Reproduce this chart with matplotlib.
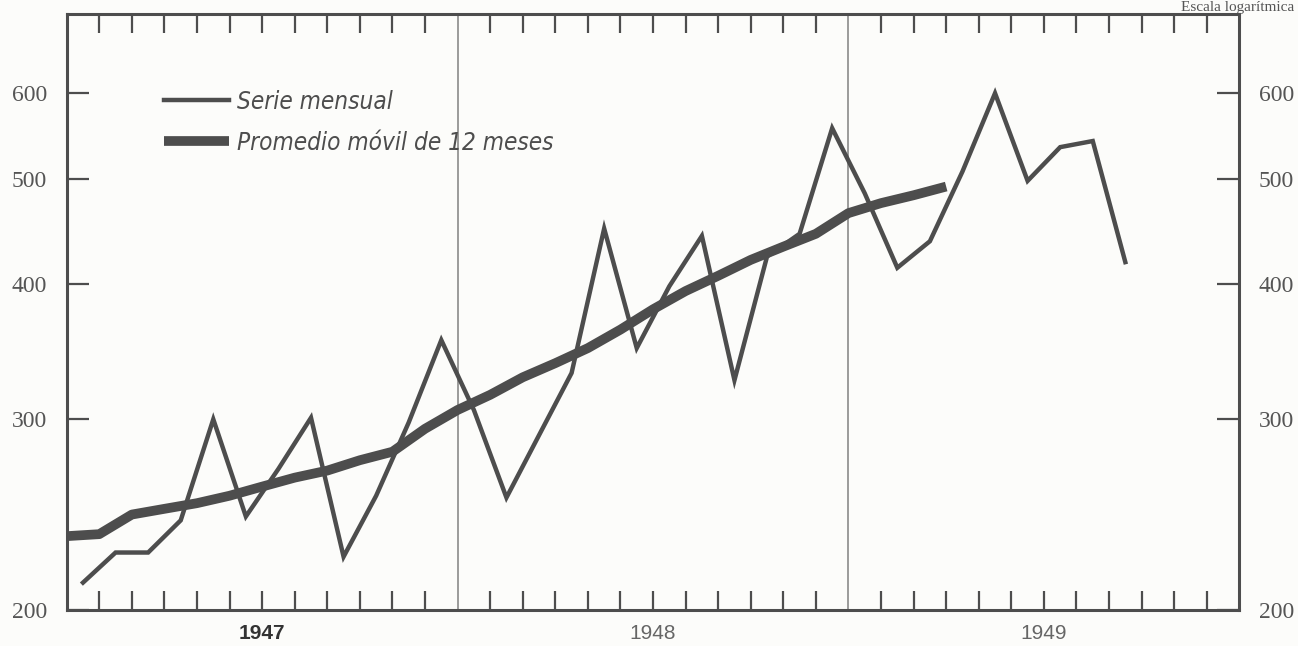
import matplotlib
matplotlib.use("Agg")
import matplotlib.pyplot as plt
from matplotlib import ticker, transforms

# Monthly series, Jan 1947 - Sep 1949 (log scale)
serie_mensual = [212, 226, 226, 242, 300, 244, 270, 301, 224, 255, 298, 355,
                 306, 254, 290, 331, 450, 349, 398, 443, 326, 424, 445, 557,
                 485, 414, 438, 508, 600, 498, 535, 542, 419]
# 12-month moving average, plotted at month boundaries (0 = start of Jan 1947)
promedio_movil = [234, 235, 245, 248, 251, 255, 260, 265, 269, 275, 280, 294,
                  306, 316, 328, 338, 349, 363, 379, 394, 407, 421, 433, 445,
                  465, 475, 483, 492]
years = ["1947", "1948", "1949"]
y_ticks = [200, 300, 400, 500, 600]

ink = "#4d4d4d"
paper = "#fcfcfa"

fig = plt.figure(figsize=(12.98, 6.46), dpi=100, facecolor=paper)
ax = fig.add_axes([0.0514, 0.0557, 0.9034, 0.9226], facecolor=paper)

x_month = [i + 0.5 for i in range(len(serie_mensual))]
x_avg = list(range(len(promedio_movil)))

ax.plot(x_month, serie_mensual, color=ink, lw=3.2, solid_joinstyle="miter",
        zorder=3, label="Serie mensual")
ax.plot(x_avg, promedio_movil, color=ink, lw=7, solid_capstyle="butt",
        solid_joinstyle="round", zorder=2, label="Promedio móvil de 12 meses")

# year dividers
for xb in (12, 24):
    ax.axvline(xb, color="#8a8a8a", lw=1.2, zorder=1)

ax.set_yscale("log")
ax.set_ylim(200, 710)
ax.set_xlim(0, 36)

ax.yaxis.set_major_locator(ticker.FixedLocator(y_ticks))
ax.yaxis.set_minor_locator(ticker.NullLocator())
ax.yaxis.set_major_formatter(ticker.FixedFormatter([str(v) for v in y_ticks]))

# month ticks on top and bottom
ax.set_xticks([m for m in range(1, 36) if m % 12 != 0])
ax.set_xticklabels([])
ax.xaxis.set_minor_locator(ticker.NullLocator())

ax.tick_params(axis="x", which="major", direction="in", length=14, width=1.6,
               color=ink, top=True, bottom=True)
ax.tick_params(axis="y", which="major", direction="in", length=16, width=1.6,
               color=ink, left=True, right=True, labelleft=True,
               labelright=True, labelsize=17, labelcolor="#555555", pad=14)
for lab in ax.get_yticklabels():
    lab.set_family("Liberation Serif")

# year labels centred below each year
trans = transforms.blended_transform_factory(ax.transData, ax.transAxes)
for i, yr in enumerate(years):
    ax.text(12 * i + 6, -0.04, yr, transform=trans, ha="center", va="center",
            fontsize=15, family="Liberation Sans",
            color="#333333" if i == 0 else "#666666",
            fontweight="bold" if i == 0 else "normal")

for sp in ax.spines.values():
    sp.set_color(ink)
    sp.set_linewidth(2.2)

leg = ax.legend(loc="upper left", bbox_to_anchor=(0.064, 0.91), frameon=False,
                handlelength=2.7, handletextpad=0.3, labelspacing=0.7,
                prop={"family": "DejaVu Sans", "style": "italic",
                      "stretch": "condensed", "size": 17.5})
for t in leg.get_texts():
    t.set_color(ink)

fig.text(0.997, 0.999, "Escala logarítmica", ha="right", va="top",
         fontsize=11, family="Liberation Serif", color="#555555")

fig.savefig("out.png", dpi=100, facecolor=paper)
